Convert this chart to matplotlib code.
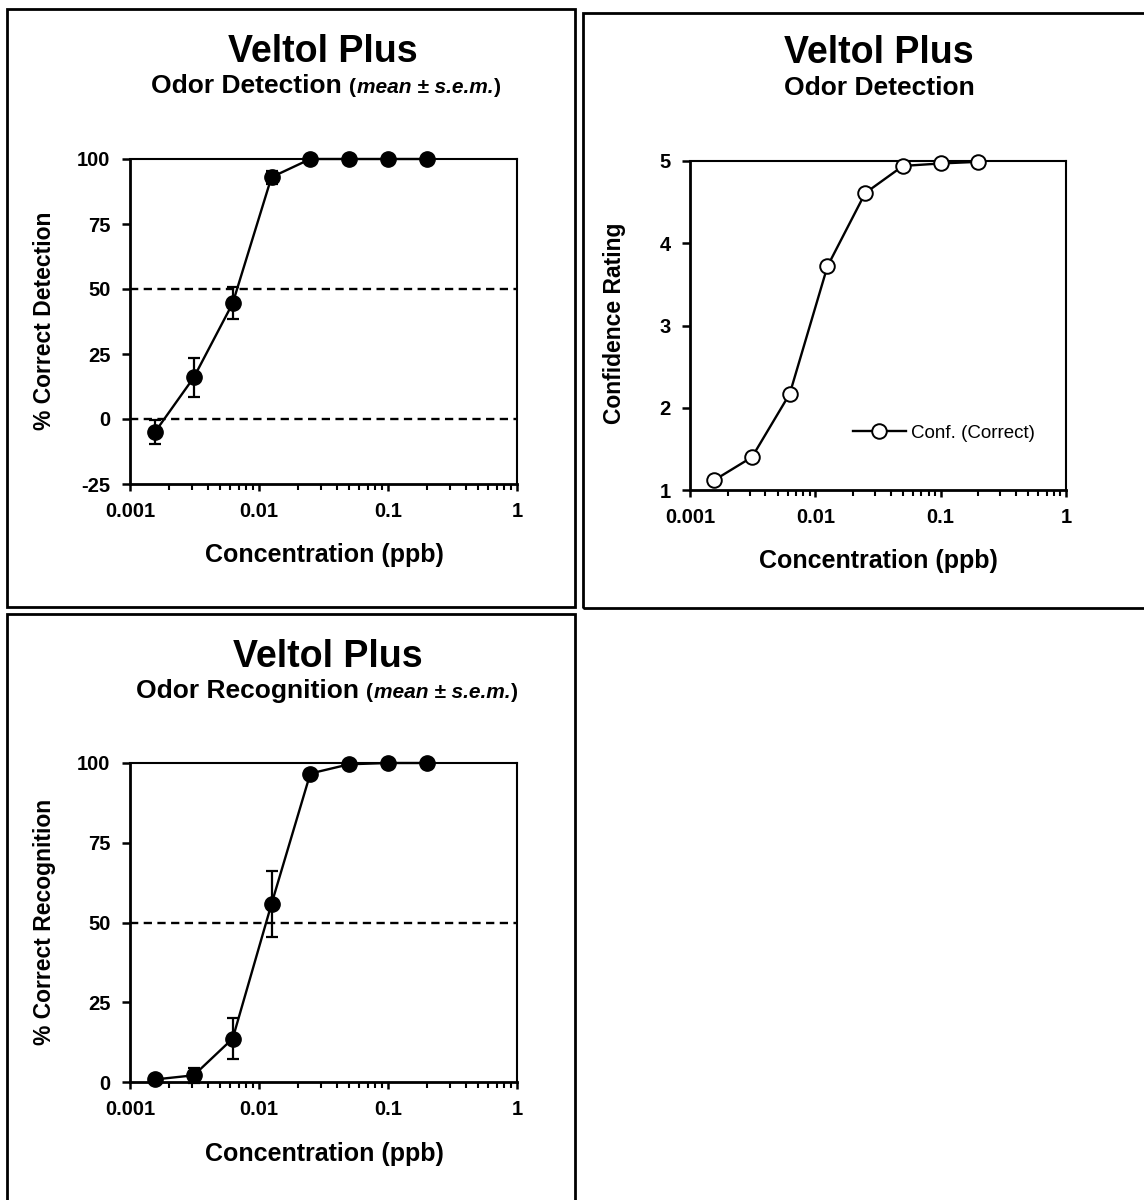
import matplotlib
matplotlib.use("Agg")
import matplotlib.pyplot as plt
from matplotlib.patches import Rectangle
from matplotlib.ticker import LogLocator, FixedLocator, FuncFormatter, NullFormatter

plt.rcParams['font.family'] = ['Liberation Sans', 'DejaVu Sans']
plt.rcParams['axes.unicode_minus'] = False

# ---------------- data ----------------
conc = [0.0015625, 0.003125, 0.00625, 0.0125, 0.025, 0.05, 0.1, 0.2]
det_mean = [-5.0, 16.0, 44.5, 93.0, 100.0, 100.0, 100.0, 100.0]
det_sem = [4.5, 7.6, 6.2, 2.5, 0.0, 0.0, 0.0, 0.0]
conf_correct = [1.12, 1.40, 2.17, 3.72, 4.61, 4.94, 4.97, 4.99]
rec_mean = [0.8, 2.1, 13.6, 55.8, 96.7, 99.6, 100.0, 100.0]
rec_sem = [0.6, 2.4, 6.5, 10.2, 1.0, 0.4, 0.0, 0.0]

det_yticks = [-25, 0, 25, 50, 75, 100]
conf_yticks = [1, 2, 3, 4, 5]
rec_yticks = [0, 25, 50, 75, 100]
x_ticks = [0.001, 0.01, 0.1, 1]

title_text = "Veltol Plus"
legend_label = "Conf. (Correct)"

W, H = 1144, 1200
fig = plt.figure(figsize=(W / 100, H / 100), dpi=100)


def fx(x):
    return x / W


def fy(y):
    return 1 - y / H


def add_axes(x0, y0, x1, y1):
    return fig.add_axes([fx(x0), fy(y1), fx(x1) - fx(x0), fy(y0) - fy(y1)])


def style_axes(ax, ylim, yticks):
    ax.set_xscale('log')
    ax.set_xlim(0.001, 1)
    ax.set_ylim(*ylim)
    ax.xaxis.set_major_locator(FixedLocator(x_ticks))
    ax.xaxis.set_minor_locator(LogLocator(base=10, subs=[2, 3, 4, 5, 6, 7, 8, 9]))
    ax.xaxis.set_minor_formatter(NullFormatter())
    ax.xaxis.set_major_formatter(FuncFormatter(lambda v, p: f"{v:g}"))
    ax.set_yticks(yticks)
    ax.yaxis.set_major_formatter(FuncFormatter(lambda v, p: f"{v:g}"))
    ax.tick_params(axis='x', which='major', direction='out', length=5, width=1.8,
                   labelsize=14.5, pad=8, top=False)
    ax.tick_params(axis='x', which='minor', direction='out', length=4, width=1.5, top=False)
    ax.tick_params(axis='y', which='major', direction='out', length=6, width=1.8,
                   labelsize=14.5, pad=8, right=False)
    for lab in ax.get_xticklabels() + ax.get_yticklabels():
        lab.set_fontweight('bold')
    for s in ['left', 'bottom']:
        ax.spines[s].set_linewidth(2.0)
    for s in ['top', 'right']:
        ax.spines[s].set_linewidth(1.5)
    for s in ax.spines.values():
        s.set_zorder(1)


def draw_runs(cx, y, runs, gaps):
    """Draw a sequence of text runs centred at cx (px), baseline at y (px)."""
    r = fig.canvas.get_renderer()
    texts = []
    widths = []
    for txt, kw in runs:
        t = fig.text(0, fy(y), txt, ha='left', va='baseline', **kw)
        w = t.get_window_extent(renderer=r).width
        texts.append(t)
        widths.append(w)
    total = sum(widths) + sum(gaps)
    x = cx - total / 2
    for i, (t, w) in enumerate(zip(texts, widths)):
        t.set_x(fx(x))
        x += w + (gaps[i] if i < len(gaps) else 0)


# panel frames
for (x0, y0, x1, y1) in [(7, 9, 575, 607), (583, 13, 1152, 608), (7, 614, 575, 1208)]:
    fig.add_artist(Rectangle((fx(x0), fy(y1)), fx(x1) - fx(x0), fy(y0) - fy(y1),
                             transform=fig.transFigure, fill=False, lw=2.0,
                             ec='black', zorder=0))

dash = dict(color='black', lw=1.7, linestyle=(0, (3.5, 2.3)), zorder=1)
sub_runs = lambda head: [(head, dict(fontsize=19, fontweight='bold')),
                         ("(", dict(fontsize=15, fontweight='bold')),
                         ("mean ± s.e.m.", dict(fontsize=15, fontweight='bold', style='italic')),
                         (")", dict(fontsize=15, fontweight='bold'))]

# ---------------- panel 1 ----------------
ax1 = add_axes(130, 159, 517, 484)
style_axes(ax1, (-25, 100), det_yticks)
ax1.axhline(50, **dash)
ax1.axhline(0, **dash)
ax1.errorbar(conc, det_mean, yerr=det_sem, color='black', lw=1.7, elinewidth=1.6,
             capsize=4.3, capthick=1.6, marker='o', markersize=11,
             markerfacecolor='black', markeredgecolor='black', clip_on=False, zorder=3)
fig.text(fx(323), fy(62), title_text, ha='center', va='baseline', fontsize=27, fontweight='bold')
draw_runs(326, 93, sub_runs("Odor Detection"), gaps=[7, 1, 1])
fig.text(fx(45), fy(321), "% Correct Detection", rotation=90, ha='center', va='center',
         fontsize=16.5, fontweight='bold')
fig.text(fx(324), fy(555), "Concentration (ppb)", ha='center', va='center',
         fontsize=18, fontweight='bold')

# ---------------- panel 2 ----------------
ax2 = add_axes(690, 161, 1066, 490)
style_axes(ax2, (1, 5), conf_yticks)
ax2.plot(conc, conf_correct, color='black', lw=1.7, marker='o', markersize=10.5,
         markerfacecolor='white', markeredgecolor='black', markeredgewidth=1.4,
         clip_on=False, zorder=3, label=legend_label)
ax2.legend(loc='center left', bbox_to_anchor=((853 - 690) / 376, (490 - 433) / 329),
           frameon=False, fontsize=13.5, handlelength=2.8, handletextpad=0.3,
           borderpad=0, borderaxespad=0)
fig.text(fx(879), fy(63), title_text, ha='center', va='baseline', fontsize=27, fontweight='bold')
fig.text(fx(879), fy(95), "Odor Detection", ha='center', va='baseline', fontsize=19, fontweight='bold')
fig.text(fx(614), fy(323), "Confidence Rating", rotation=90, ha='center', va='center',
         fontsize=16.5, fontweight='bold')
fig.text(fx(878), fy(561), "Concentration (ppb)", ha='center', va='center',
         fontsize=18, fontweight='bold')

# ---------------- panel 3 ----------------
ax3 = add_axes(130, 763, 517, 1082)
style_axes(ax3, (0, 100), rec_yticks)
ax3.axhline(50, **dash)
ax3.errorbar(conc, rec_mean, yerr=rec_sem, color='black', lw=1.7, elinewidth=1.6,
             capsize=4.3, capthick=1.6, marker='o', markersize=11,
             markerfacecolor='black', markeredgecolor='black', clip_on=False, zorder=3)
fig.text(fx(328), fy(667), title_text, ha='center', va='baseline', fontsize=27, fontweight='bold')
draw_runs(327, 698, sub_runs("Odor Recognition"), gaps=[7, 1, 1])
fig.text(fx(45), fy(922), "% Correct Recognition", rotation=90, ha='center', va='center',
         fontsize=16.5, fontweight='bold')
fig.text(fx(324), fy(1154), "Concentration (ppb)", ha='center', va='center',
         fontsize=18, fontweight='bold')

fig.savefig("out.png", dpi=100)
